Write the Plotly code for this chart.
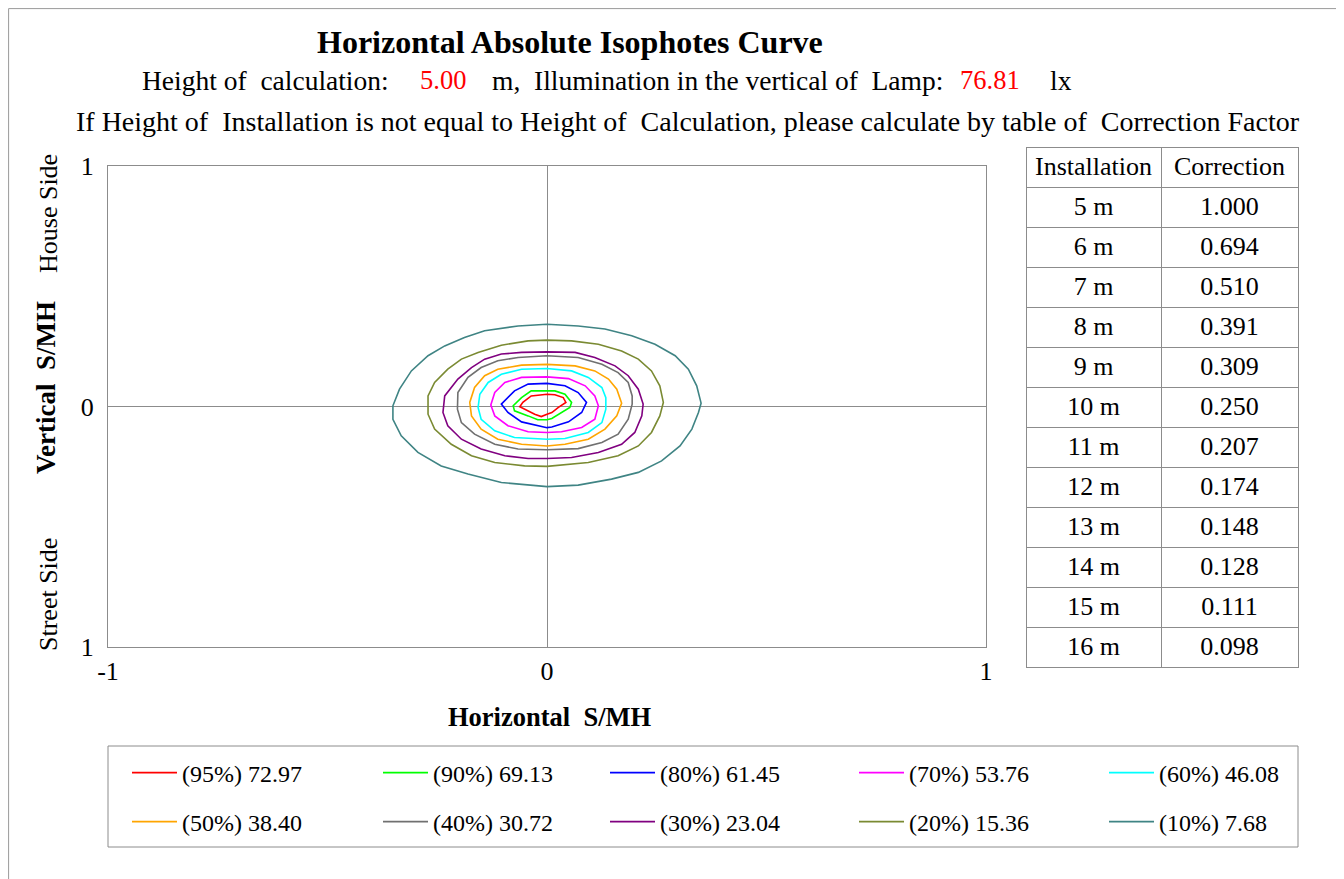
import plotly.graph_objects as go

W, H = 1344, 879
OFF = 8  # page body margin of the written html page
FONT = "Liberation Serif, Times New Roman, serif"

# ---- data ----
PCT = [95, 90, 80, 70, 60, 50, 40, 30, 20, 10]
LUX = ["72.97", "69.13", "61.45", "53.76", "46.08", "38.40", "30.72", "23.04", "15.36", "7.68"]
COLORS = ["#FF0000", "#00FF00", "#0000FF", "#FF00FF", "#00FFFF",
          "#FFA500", "#707070", "#800080", "#7A8A32", "#3F8484"]

X95 = [0, 0.018, 0.037, 0.043, 0.026, 0.011, 0, -0.013, -0.028, -0.051, -0.062, -0.055, -0.036, 0]
Y95 = [0.051, 0.049, 0.037, 0.017, -0.004, -0.025, -0.032, -0.042, -0.032, -0.011, -0.001, 0.017, 0.044, 0.051]

X90 = [0, 0.018, 0.041, 0.056, 0.052, 0.033, 0.011, 0, -0.021, -0.043, -0.074, -0.077, -0.058, -0.036, 0]
Y90 = [0.065, 0.065, 0.051, 0.017, -0.004, -0.025, -0.050, -0.055, -0.055, -0.039, -0.018, 0.003, 0.037, 0.065, 0.065]

X80 = [0, 0.041, 0.071, 0.090, 0.079, 0.049, 0.011, 0, -0.058, -0.089, -0.104, -0.074, -0.043, 0]
Y80 = [0.096, 0.086, 0.058, 0.017, -0.025, -0.064, -0.085, -0.088, -0.064, -0.025, 0.010, 0.065, 0.093, 0.096]

X70 = [0, 0.049, 0.087, 0.109, 0.117, 0.109, 0.079, 0.033, 0, -0.043, -0.089, -0.119, -0.128, -0.119, -0.096, -0.058, 0]
Y70 = [0.123, 0.116, 0.086, 0.044, 0.003, -0.053, -0.087, -0.105, -0.108, -0.105, -0.080, -0.039, 0.006, 0.058, 0.100, 0.121, 0.123]

X60 = [0, 0.056, 0.094, 0.125, 0.134, 0.134, 0.125, 0.094, 0.041, 0, -0.074, -0.119, -0.150, -0.157, -0.153, -0.134, -0.104, -0.058, 0]
Y60 = [0.158, 0.148, 0.121, 0.079, 0.037, -0.011, -0.067, -0.108, -0.133, -0.136, -0.129, -0.101, -0.053, -0.004, 0.051, 0.100, 0.134, 0.155, 0.158]

X50 = [0, 0.064, 0.109, 0.140, 0.159, 0.170, 0.159, 0.132, 0.094, 0.041, 0, -0.058, -0.112, -0.150, -0.172, -0.176, -0.165, -0.142, -0.112, -0.058, 0]
Y50 = [0.175, 0.169, 0.148, 0.114, 0.072, 0.014, -0.039, -0.094, -0.136, -0.157, -0.164, -0.157, -0.136, -0.094, -0.039, 0.017, 0.079, 0.128, 0.155, 0.172, 0.175]

X40 = [0, 0.071, 0.125, 0.162, 0.185, 0.194, 0.194, 0.185, 0.162, 0.125, 0.071, 0, -0.066, -0.119, -0.165, -0.195, -0.204, -0.203, -0.180, -0.150, -0.112, -0.066, 0]
Y40 = [0.211, 0.204, 0.176, 0.141, 0.100, 0.044, 0.010, -0.053, -0.115, -0.150, -0.175, -0.180, -0.177, -0.157, -0.115, -0.067, -0.011, 0.058, 0.121, 0.162, 0.190, 0.204, 0.211]

X30 = [0, 0.064, 0.109, 0.155, 0.185, 0.208, 0.219, 0.216, 0.200, 0.170, 0.117, 0.056, 0, -0.043, -0.096, -0.150, -0.195, -0.226, -0.237, -0.233, -0.203, -0.172, -0.142, -0.104, -0.058, 0]
Y30 = [0.227, 0.225, 0.204, 0.169, 0.128, 0.072, 0.010, -0.039, -0.108, -0.157, -0.191, -0.212, -0.216, -0.216, -0.205, -0.177, -0.136, -0.080, -0.025, 0.044, 0.114, 0.162, 0.197, 0.218, 0.225, 0.227]

X20 = [0, 0.056, 0.117, 0.170, 0.208, 0.238, 0.257, 0.265, 0.257, 0.238, 0.208, 0.162, 0.094, 0, -0.051, -0.119, -0.172, -0.218, -0.256, -0.271, -0.271, -0.256, -0.226, -0.195, -0.157, -0.104, -0.043, 0]
Y20 = [0.276, 0.273, 0.259, 0.231, 0.197, 0.148, 0.086, 0.017, -0.039, -0.108, -0.164, -0.205, -0.233, -0.249, -0.247, -0.233, -0.205, -0.157, -0.094, -0.032, 0.044, 0.100, 0.155, 0.197, 0.225, 0.255, 0.273, 0.276]

X10 = [0, 0.071, 0.132, 0.193, 0.246, 0.292, 0.322, 0.341, 0.351, 0.345, 0.330, 0.303, 0.261, 0.208, 0.147, 0.071, 0,
       -0.104, -0.180, -0.241, -0.294, -0.332, -0.351, -0.351, -0.336, -0.309, -0.271, -0.233, -0.188, -0.142, -0.066, 0]
Y10 = [0.342, 0.335, 0.322, 0.294, 0.259, 0.211, 0.155, 0.086, 0.014, -0.025, -0.094, -0.164, -0.226, -0.274, -0.302, -0.327, -0.333,
       -0.316, -0.281, -0.247, -0.191, -0.122, -0.053, 0.003, 0.072, 0.148, 0.211, 0.252, 0.287, 0.315, 0.335, 0.342]

CONTOURS_X = [X95, X90, X80, X70, X60, X50, X40, X30, X20, X10]
CONTOURS_Y = [Y95, Y90, Y80, Y70, Y60, Y50, Y40, Y30, Y20, Y10]

HEIGHTS = ["5 m", "6 m", "7 m", "8 m", "9 m", "10 m", "11 m", "12 m", "13 m", "14 m", "15 m", "16 m"]
FACTORS = ["1.000", "0.694", "0.510", "0.391", "0.309", "0.250", "0.207", "0.174", "0.148", "0.128", "0.111", "0.098"]

XTICKS = [-1, 0, 1]
XTICKTEXT = ["-1", "0", "1"]
YTICKS = [1, 0, -1]
YTICKTEXT = ["1", "0", "1"]


def px(x):
    return (x - OFF) / W


def py(y):
    return 1 - (y - OFF) / H


fig = go.Figure()

LEG_X = [127, 378, 605, 854, 1104]
LEG_Y = [773, 822]
legends = {}
for i in range(len(PCT)):
    key = "legend" if i == 0 else f"legend{i + 1}"
    fig.add_trace(go.Scatter(
        x=CONTOURS_X[i], y=CONTOURS_Y[i], mode="lines",
        line=dict(color=COLORS[i], width=1.6),
        name=f"({PCT[i]}%) {LUX[i]}",
        legend=key,
        hoverinfo="skip",
    ))
    legends[key] = dict(
        x=px(LEG_X[i % 5]), y=py(LEG_Y[i // 5]), xref="paper", yref="paper",
        xanchor="left", yanchor="middle", orientation="h",
        bgcolor="rgba(0,0,0,0)", borderwidth=0, itemwidth=45,
        font=dict(family=FONT, size=24, color="black"),
    )

fig.add_trace(go.Table(
    domain=dict(x=[px(1026), px(1298)], y=[py(671), py(147)]),
    columnwidth=[135, 137],
    header=dict(values=["Installation", "Correction"], height=40,
                fill_color="white", line_color="#8c8c8c",
                font=dict(family=FONT, size=26, color="black"), align="center"),
    cells=dict(values=[HEIGHTS, FACTORS], height=40,
               fill_color="white", line_color="#8c8c8c",
               font=dict(family=FONT, size=26, color="black"), align="center"),
))

LINE_FS = 27.5
annotations = [
    dict(text="<b>Horizontal Absolute Isophotes Curve</b>", x=px(570), y=py(42),
         font=dict(size=32)),
    dict(text="Height of\u00a0\u00a0calculation:", x=px(140), y=py(80), xanchor="left", font=dict(size=LINE_FS)),
    dict(text="5.00", x=px(418), y=py(80), xanchor="left", font=dict(size=26.5, color="#FF0000")),
    dict(text="m,\u00a0\u00a0Illumination in the vertical of\u00a0\u00a0Lamp:", x=px(490), y=py(80), xanchor="left",
         font=dict(size=LINE_FS)),
    dict(text="76.81", x=px(958), y=py(80), xanchor="left", font=dict(size=26.5, color="#FF0000")),
    dict(text="lx", x=px(1048), y=py(80), xanchor="left", font=dict(size=LINE_FS)),
    dict(text="If Height of\u00a0\u00a0Installation is not equal to Height of\u00a0\u00a0Calculation, please calculate by table of\u00a0\u00a0Correction Factor",
         x=px(688), y=py(122), font=dict(size=28)),
    dict(text="<b>Horizontal\u00a0\u00a0S/MH</b>", x=px(550), y=py(717), font=dict(size=26.5)),
    dict(text="<b>Vertical\u00a0\u00a0S/MH</b>", x=px(46), y=py(388), textangle=-90, font=dict(size=27)),
    dict(text="House Side", x=px(48), y=py(214), textangle=-90, font=dict(size=26)),
    dict(text="Street Side", x=px(48), y=py(595), textangle=-90, font=dict(size=26)),
]
for a in annotations:
    a.update(xref="paper", yref="paper", showarrow=False)
    a.setdefault("xanchor", "center")
    a["yanchor"] = "middle"
    a["font"].setdefault("color", "black")
    a["font"]["family"] = FONT

FRAME_L, FRAME_T, FRAME_R = 0.6 / W, 1 - 0.6 / H, px(1339)
shapes = [
    # outer frame (left, top, right)
    dict(type="line", xref="paper", yref="paper", x0=FRAME_L, x1=FRAME_L, y0=FRAME_T, y1=0,
         line=dict(color="#9a9a9a", width=1)),
    dict(type="line", xref="paper", yref="paper", x0=FRAME_L, x1=FRAME_R, y0=FRAME_T, y1=FRAME_T,
         line=dict(color="#9a9a9a", width=1)),
    dict(type="line", xref="paper", yref="paper", x0=FRAME_R, x1=FRAME_R, y0=FRAME_T, y1=0,
         line=dict(color="#9a9a9a", width=1)),
    # legend box
    dict(type="rect", xref="paper", yref="paper", x0=px(108), x1=px(1298), y0=py(746), y1=py(847),
         line=dict(color="#8c8c8c", width=1), fillcolor="rgba(0,0,0,0)"),
]

fig.update_layout(
    width=W, height=H,
    margin=dict(l=0, r=0, t=0, b=0),
    paper_bgcolor="white", plot_bgcolor="white",
    showlegend=True,
    xaxis=dict(domain=[px(108), px(986)], range=[-1, 1], tickvals=XTICKS, ticktext=XTICKTEXT,
               showgrid=False, zeroline=True, zerolinecolor="#8c8c8c", zerolinewidth=1,
               showline=True, mirror=True, linecolor="#8c8c8c", linewidth=1,
               ticks="", ticklabelstandoff=1, automargin=False,
               tickfont=dict(family=FONT, size=26, color="black")),
    yaxis=dict(domain=[py(647), py(166)], range=[-1, 1], tickvals=YTICKS, ticktext=YTICKTEXT,
               showgrid=False, zeroline=True, zerolinecolor="#8c8c8c", zerolinewidth=1,
               showline=True, mirror=True, linecolor="#8c8c8c", linewidth=1,
               ticks="", ticklabelstandoff=8, automargin=False,
               tickfont=dict(family=FONT, size=26, color="black")),
    annotations=annotations,
    shapes=shapes,
    **legends,
)

fig.write_html("out.html")
